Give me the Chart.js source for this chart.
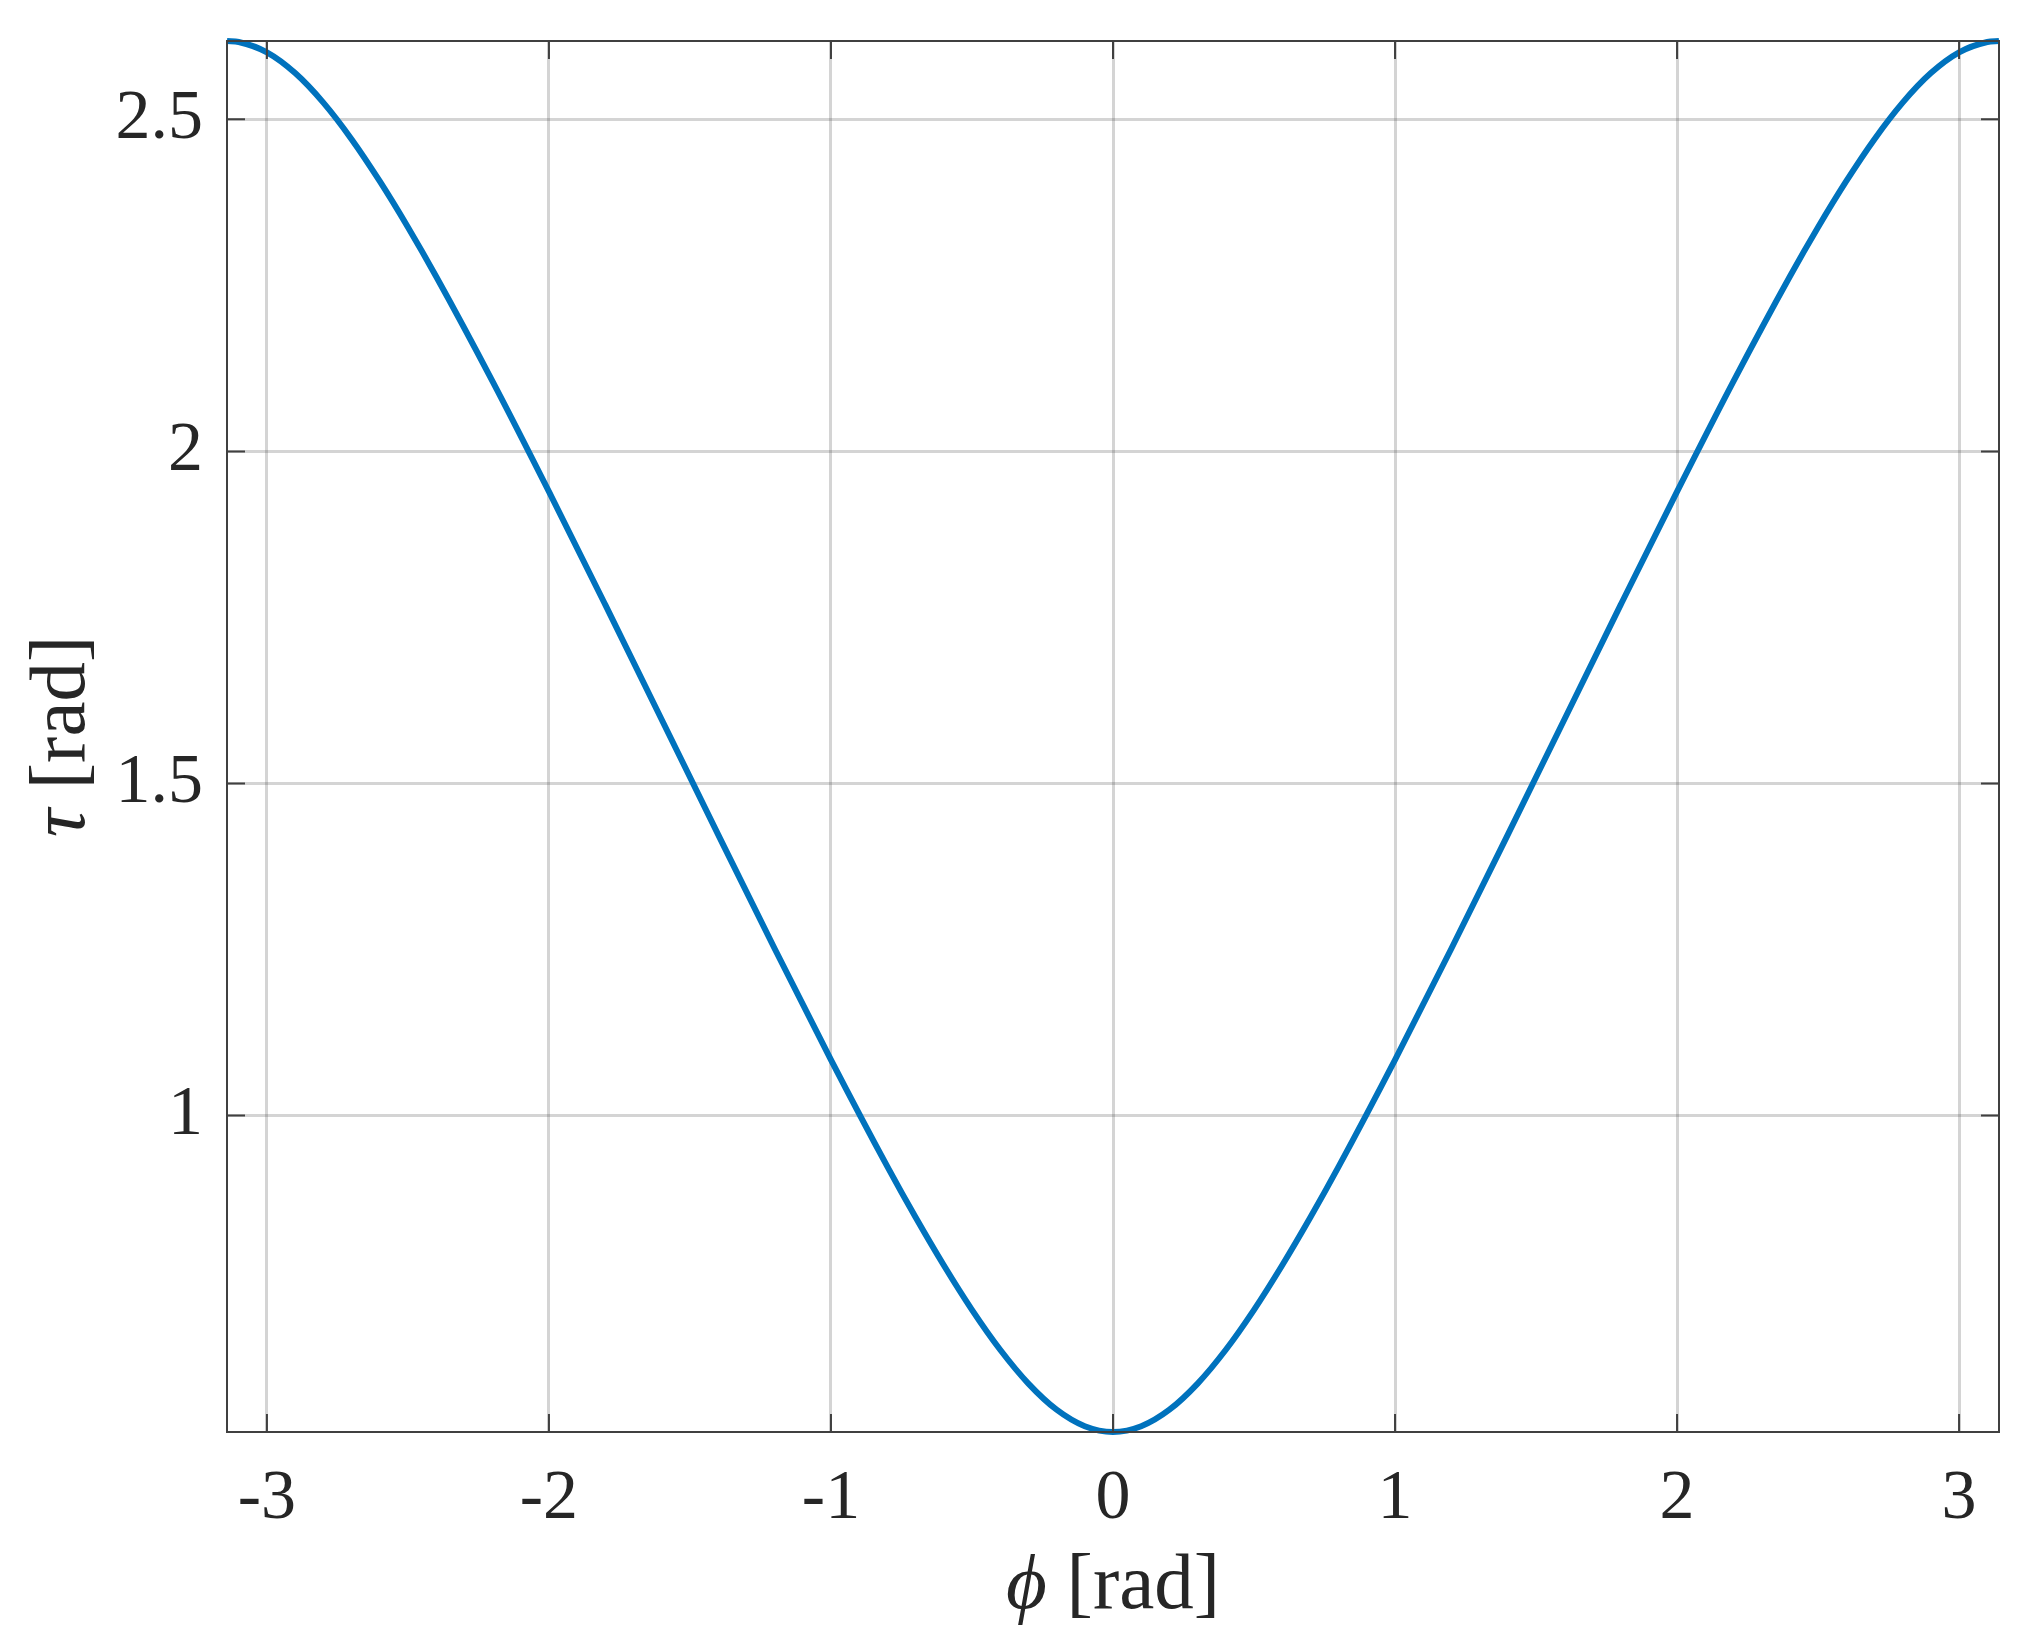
<!DOCTYPE html>
<html>
<head>
<meta charset="utf-8">
<title>tau vs phi</title>
<script src="https://cdn.jsdelivr.net/npm/chart.js@4.4.1/dist/chart.umd.min.js"></script>
<style>
  html, body { margin: 0; padding: 0; background: #fff; }
  #wrap { width: 2029px; height: 1644px; }
</style>
</head>
<body>
<div id="wrap"><canvas id="chart" width="2029" height="1644"></canvas></div>
<script>
'use strict';

// ── Datos ─────────────────────────────────────────────────
const phiValues = [
  -3.1416, -3.1, -3.0, -2.9, -2.8, -2.7, -2.6, -2.5, -2.4, -2.2, -2.0, -1.8, -1.6, -1.4, -1.2,
  -1.0, -0.8, -0.7, -0.6, -0.5, -0.4, -0.3, -0.2, -0.1, 0,
  0.1, 0.2, 0.3, 0.4, 0.5, 0.6, 0.7, 0.8, 1.0,
  1.2, 1.4, 1.6, 1.8, 2.0, 2.2, 2.4, 2.5, 2.6, 2.7, 2.8, 2.9, 3.0, 3.1, 3.1416
];
const tauValues = [
  2.6180, 2.6165, 2.6009, 2.5697, 2.5252, 2.4702, 2.4069, 2.3376, 2.2635, 2.1056, 1.9395, 1.7689, 1.5961, 1.4231, 1.2516,
  1.0839, 0.9231, 0.8468, 0.7746, 0.7075, 0.6474, 0.5965, 0.5572, 0.5323, 0.5236,
  0.5323, 0.5572, 0.5965, 0.6474, 0.7075, 0.7746, 0.8468, 0.9231, 1.0839,
  1.2516, 1.4231, 1.5961, 1.7689, 1.9395, 2.1056, 2.2635, 2.3376, 2.4069, 2.4702, 2.5252, 2.5697, 2.6009, 2.6165, 2.6180
];
const xTicks = [-3, -2, -1, 0, 1, 2, 3];
const yTicks = [1, 1.5, 2, 2.5];
const xRange = [-3.1416, 3.1416];
const yRange = [0.5236, 2.618];

// ── Estilo ────────────────────────────────────────────────
const FONT = '"Liberation Serif", "DejaVu Serif", serif';
const TEXT = '#262626';
const AXIS = '#404040';
const GRID = 'rgba(38, 38, 38, 0.2)';
const LINE = '#0072BD';
const PAD = { left: 227, right: 30, top: 41, bottom: 212 };

// ── Caja, ticks hacia dentro y títulos estilo MATLAB ─────
const matlabAxes = {
  id: 'matlabAxes',
  afterDraw(chart) {
    const { ctx, chartArea: a, scales: { x, y } } = chart;
    ctx.save();
    ctx.strokeStyle = AXIS;
    ctx.lineWidth = 2;
    ctx.strokeRect(a.left, a.top, a.right - a.left, a.bottom - a.top);

    const len = 18;
    ctx.beginPath();
    xTicks.forEach(v => {
      const px = x.getPixelForValue(v);
      ctx.moveTo(px, a.bottom); ctx.lineTo(px, a.bottom - len);
      ctx.moveTo(px, a.top);    ctx.lineTo(px, a.top + len);
    });
    yTicks.forEach(v => {
      const py = y.getPixelForValue(v);
      ctx.moveTo(a.left, py);  ctx.lineTo(a.left + len, py);
      ctx.moveTo(a.right, py); ctx.lineTo(a.right - len, py);
    });
    ctx.stroke();

    // títulos con la letra griega en cursiva
    const drawTitle = (sym, rest, cx, cy, rot) => {
      ctx.save();
      ctx.translate(cx, cy);
      ctx.rotate(rot);
      ctx.fillStyle = TEXT;
      ctx.textBaseline = 'alphabetic';
      ctx.textAlign = 'left';
      const fSym = 'italic 79px ' + FONT;
      const fRest = '79px ' + FONT;
      ctx.font = fSym;
      const w1 = ctx.measureText(sym).width;
      ctx.font = fRest;
      const w2 = ctx.measureText(rest).width;
      const sx = -(w1 + w2) / 2;
      ctx.font = fSym;
      ctx.fillText(sym, sx, 0);
      ctx.font = fRest;
      ctx.fillText(rest, sx + w1, 0);
      ctx.restore();
    };
    const cx = (a.left + a.right) / 2;
    const cy = (a.top + a.bottom) / 2;
    drawTitle('\u03D5', ' [rad]', cx, 1608, 0);
    drawTitle('\u03C4', ' [rad]', 84, cy, -Math.PI / 2);
    ctx.restore();
  }
};

const points = phiValues.map((p, i) => ({ x: p, y: tauValues[i] }));

new Chart(document.getElementById('chart'), {
  type: 'line',
  data: {
    datasets: [{
      data: points,
      borderColor: LINE,
      borderWidth: 6,
      pointRadius: 0,
      fill: false,
      cubicInterpolationMode: 'monotone',
      clip: false
    }]
  },
  options: {
    responsive: false,
    animation: false,
    layout: { padding: { left: 0, right: PAD.right, top: PAD.top, bottom: 0 } },
    plugins: { legend: { display: false }, tooltip: { enabled: false } },
    scales: {
      x: {
        type: 'linear',
        min: xRange[0],
        max: xRange[1],
        afterBuildTicks: s => { s.ticks = xTicks.map(v => ({ value: v })); },
        afterFit: s => { s.height = PAD.bottom; s.paddingLeft = 0; s.paddingRight = 0; },
        border: { display: false },
        grid: { color: GRID, lineWidth: 3, drawTicks: false },
        ticks: {
          color: TEXT,
          font: { family: FONT, size: 70 },
          padding: 26,
          maxRotation: 0,
          autoSkip: false,
          callback: v => String(v)
        }
      },
      y: {
        type: 'linear',
        min: yRange[0],
        max: yRange[1],
        afterBuildTicks: s => { s.ticks = yTicks.map(v => ({ value: v })); },
        afterFit: s => { s.width = PAD.left; s.paddingTop = 0; s.paddingBottom = 0; },
        border: { display: false },
        grid: { color: GRID, lineWidth: 3, drawTicks: false },
        ticks: {
          color: TEXT,
          font: { family: FONT, size: 70 },
          padding: 24,
          autoSkip: false,
          callback: v => String(v)
        }
      }
    }
  },
  plugins: [matlabAxes]
});
</script>
</body>
</html>
